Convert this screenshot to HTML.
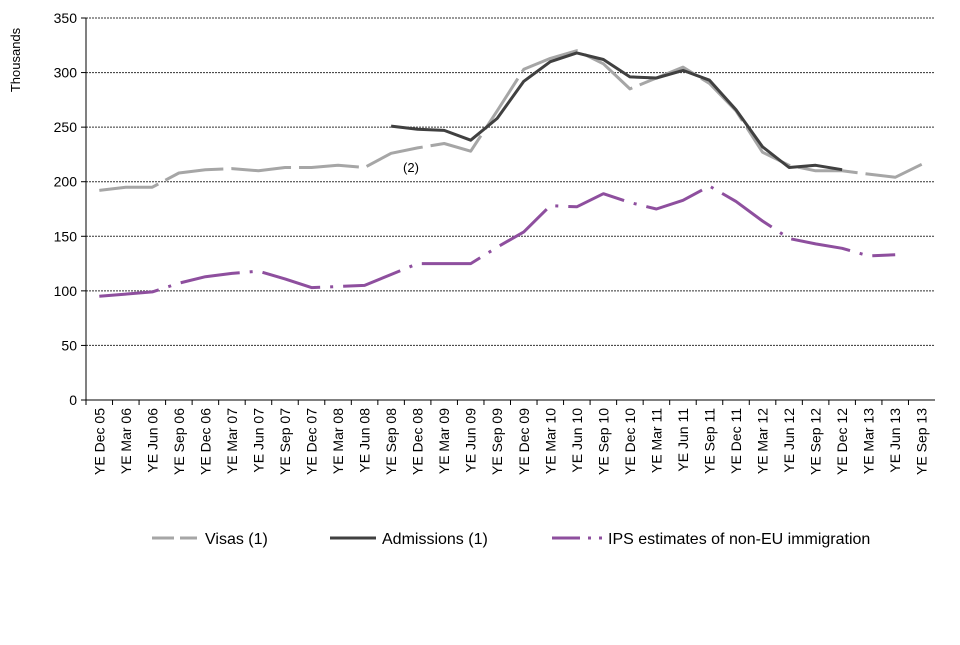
<!DOCTYPE html>
<html><head><meta charset="utf-8"><style>
body{margin:0;background:#fff;width:960px;height:640px;overflow:hidden}
svg{font-family:"Liberation Sans",sans-serif}
</style></head><body>
<svg id="chart" width="960" height="640" viewBox="0 0 960 640">
<g id="grid"></g>
<g id="yaxis"></g>
<g id="xaxis"></g>
<g id="series"></g>
<text x="20" y="60" transform="rotate(-90 20 60)" text-anchor="middle" font-size="13">Thousands</text>
<text x="411" y="172" text-anchor="middle" font-size="13">(2)</text>
<g>
<g><line x1="152" y1="538" x2="197" y2="538" stroke="#a6a6a6" stroke-width="3" stroke-dasharray="22,6"/><text x="205" y="544" font-size="16">Visas (1)</text></g>
<g><line x1="330" y1="538" x2="376" y2="538" stroke="#404040" stroke-width="3"/><text x="382" y="544" font-size="16">Admissions (1)</text></g>
<g><line x1="552" y1="538" x2="602" y2="538" stroke="#8e4f9e" stroke-width="3" stroke-dasharray="28,8,3,8"/><text x="608" y="544" font-size="16">IPS estimates of non-EU immigration</text></g>
</g>
</svg>
<script>
const categories=["YE Dec 05","YE Mar 06","YE Jun 06","YE Sep 06","YE Dec 06","YE Mar 07","YE Jun 07","YE Sep 07","YE Dec 07","YE Mar 08","YE Jun 08","YE Sep 08","YE Dec 08","YE Mar 09","YE Jun 09","YE Sep 09","YE Dec 09","YE Mar 10","YE Jun 10","YE Sep 10","YE Dec 10","YE Mar 11","YE Jun 11","YE Sep 11","YE Dec 11","YE Mar 12","YE Jun 12","YE Sep 12","YE Dec 12","YE Mar 13","YE Jun 13","YE Sep 13"];
const visas=[192,195,195,208,211,212,210,213,213,215,213,226,231,235,228,265,303,313,320,308,285,295,305,290,265,227,215,210,210,207,204,216];
const admissions=[null,null,null,null,null,null,null,null,null,null,null,251,248,247,238,258,292,310,318,312,296,295,302,293,266,232,213,215,211,null,null,null];
const ips=[95,97,99,107,113,116,118,111,103,104,105,115,125,125,125,140,154,178,177,189,181,175,183,196,182,164,148,143,139,132,133,null];
const yTicks=[0,50,100,150,200,250,300,350];
const NS="http://www.w3.org/2000/svg";
const L=86,R=935,T=18,B=400,band=(R-L)/categories.length;
const x=i=>L+band*(i+0.5), y=v=>B-v*(B-T)/350;
function mk(tag,attrs,parent){const e=document.createElementNS(NS,tag);for(const k in attrs)e.setAttribute(k,attrs[k]);parent.appendChild(e);return e;}
const grid=document.getElementById('grid'),ya=document.getElementById('yaxis'),xa=document.getElementById('xaxis'),ser=document.getElementById('series');
yTicks.forEach(t=>{
 if(t>0){const g=mk('line',{x1:L,x2:R,y1:y(t),y2:y(t),stroke:'#333','stroke-width':1,'stroke-dasharray':'2,1'},grid);
 
 }
 const tk=mk('line',{x1:L-5,x2:L,y1:y(t),y2:y(t),stroke:'#000'},ya);
 
 
 const tx=mk('text',{x:L-9,y:y(t)+5,'text-anchor':'end','font-size':14},ya);tx.textContent=t;
 
 
});
mk('line',{x1:L,x2:L,y1:T,y2:B,stroke:'#000'},ya);
mk('line',{x1:L,x2:R,y1:B,y2:B,stroke:'#000'},xa);
categories.forEach((c,i)=>{
 const tk=mk('line',{x1:L+band*i,x2:L+band*i,y1:B,y2:B+5,stroke:'#000'},xa);
 
 
 const px=x(i)+5,py=B+8;
 const tx=mk('text',{x:px,y:py,transform:`rotate(-90 ${px} ${py})`,'text-anchor':'end','font-size':14},xa);tx.textContent=c;
 
 
});
function line(data,attrs,name){
 let d='',pen=false;data.forEach((v,i)=>{if(v==null){pen=false;return;}d+=(pen?'L':'M')+x(i).toFixed(1)+','+y(v).toFixed(1);pen=true;});
 const p=mk('path',Object.assign({d,fill:'none','stroke-linejoin':'round'},attrs),ser);
 
 
}
line(visas,{stroke:'#a6a6a6','stroke-width':3,'stroke-dasharray':'60,8'},'visas-line');
line(admissions,{stroke:'#404040','stroke-width':3},'admissions-line');
line(ips,{stroke:'#8e4f9e','stroke-width':3,'stroke-dasharray':'60,10,3,10'},'ips-line');
</script>
</body></html>
